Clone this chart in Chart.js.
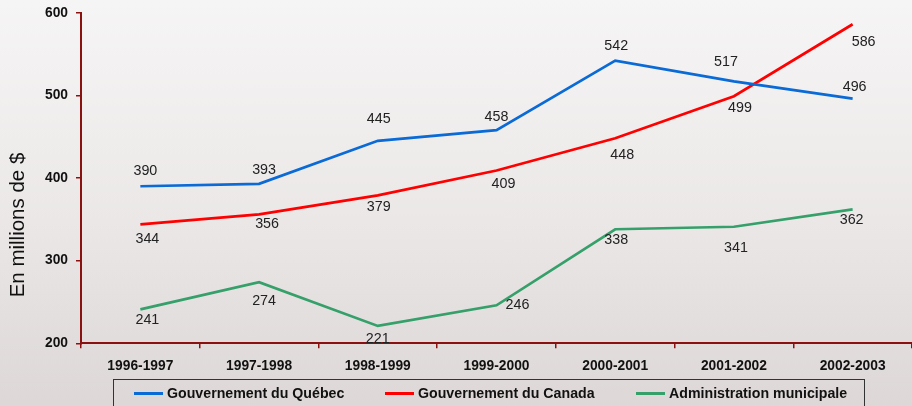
<!DOCTYPE html>
<html>
<head>
<meta charset="utf-8">
<script src="https://cdn.jsdelivr.net/npm/chart.js@4.4.1/dist/chart.umd.min.js"></script>
<style>
  html, body { margin: 0; padding: 0; width: 912px; height: 406px; overflow: hidden; }
  body { background: linear-gradient(to bottom, #f6f5f5 0%, #ebe7e7 55%, #ddd7d7 100%); position: relative; font-family: Arial, "Liberation Sans", sans-serif; }
  #wrap { position: absolute; left: 0; top: 0; width: 912px; height: 406px; }
  #c { display: block; }
  #legend { position: absolute; left: 113px; top: 379px; width: 752px; height: 32px; border: 1px solid #333; box-sizing: border-box; }
  .item { position: absolute; top: 5px; display: flex; align-items: center; font-weight: bold; font-size: 14.2px; color: #111; white-space: nowrap; }
  .swatch { width: 29px; height: 3px; margin-right: 4px; }
</style>
</head>
<body>
<div id="wrap"><canvas id="c" width="912" height="406" style="width:912px;height:406px"></canvas></div>
<div id="legend"></div>
<script>
const categories = ["1996-1997", "1997-1998", "1998-1999", "1999-2000", "2000-2001", "2001-2002", "2002-2003"];
const seriesNames = ["Gouvernement du Québec", "Gouvernement du Canada", "Administration municipale"];
const quebec    = [390, 393, 445, 458, 542, 517, 496];
const canada    = [344, 356, 379, 409, 448, 499, 586];
const municipal = [241, 274, 221, 246, 338, 341, 362];
const yTicks = [200, 300, 400, 500, 600];
const yTitle = "En millions de $";

const colors = ["#0a6ad6", "#ff0000", "#35a06a"];
// label offsets (dx, dy) relative to each point, per series
const labelOffsets = [
  [[5,-15],[5,-14],[1,-22],[0,-13],[1,-15],[-8,-19],[2,-12]],
  [[7,15],[8,10],[1,12],[7,13],[7,17],[6,12],[11,18]],
  [[7,11],[5,19],[0,13],[21,0],[1,11],[2,21],[-1,11]]
];
const legendX = [20, 271, 522];

const seriesData = [quebec, canada, municipal];
const FONT = 'Arial, "Liberation Sans", sans-serif';

const labelPlugin = {
  id: 'labels',
  afterDatasetsDraw(chart) {
    const ctx = chart.ctx;
    ctx.save();
    ctx.font = '14.3px ' + FONT;
    ctx.fillStyle = '#222';
    ctx.textAlign = 'center';
    ctx.textBaseline = 'middle';
    chart.data.datasets.forEach((ds, i) => {
      const meta = chart.getDatasetMeta(i);
      meta.data.forEach((pt, j) => {
        const off = labelOffsets[i][j];
        ctx.fillText(String(ds.data[j]), pt.x + off[0], pt.y + off[1]);
      });
    });
    // y axis title
    ctx.translate(18, 225);
    ctx.rotate(-Math.PI / 2);
    ctx.font = '20.5px ' + FONT;
    ctx.fillStyle = '#111';
    ctx.fillText(yTitle, 0, 0);
    ctx.restore();
  }
};

new Chart(document.getElementById('c'), {
  type: 'line',
  data: {
    labels: categories,
    datasets: seriesData.map((d, i) => ({
      label: seriesNames[i],
      data: d,
      borderColor: colors[i],
      backgroundColor: colors[i],
      borderWidth: 2.7,
      pointRadius: 0,
      tension: 0,
      fill: false
    }))
  },
  options: {
    responsive: false,
    animation: false,
    devicePixelRatio: 1,
    layout: { padding: { top: 12.7, right: 0, left: 0, bottom: 0 } },
    plugins: { legend: { display: false }, tooltip: { enabled: false } },
    scales: {
      x: {
        offset: true,
        grid: { offset: true, drawOnChartArea: false, drawTicks: true, tickLength: 5, color: '#8b1010', lineWidth: 1.5 },
        border: { display: true, color: '#8b1010', width: 2 },
        ticks: { autoSkip: false, color: '#111', font: { family: FONT, size: 13.8, weight: 'bold' }, padding: 10, maxRotation: 0 },
        afterFit(s) { s.height = 406 - 343.3; s.paddingLeft = 0; s.paddingRight = 0; }
      },
      y: {
        min: 200, max: 600,
        afterBuildTicks(s) { s.ticks = yTicks.map(v => ({ value: v })); },
        grid: { drawOnChartArea: false, drawTicks: true, tickLength: 5, color: '#8b1010', lineWidth: 1.5 },
        border: { display: true, color: '#8b1010', width: 2 },
        ticks: { color: '#111', font: { family: FONT, size: 13.8, weight: 'bold' }, padding: 8 },
        afterFit(s) { s.width = 81; s.paddingTop = 0; s.paddingBottom = 0; }
      }
    }
  },
  plugins: [labelPlugin]
});

// HTML legend
const leg = document.getElementById('legend');
seriesNames.forEach((n, i) => {
  const it = document.createElement('div');
  it.className = 'item';
  it.style.left = legendX[i] + 'px';
  const sw = document.createElement('span');
  sw.className = 'swatch';
  sw.style.background = colors[i];
  const tx = document.createElement('span');
  tx.textContent = n;
  it.appendChild(sw); it.appendChild(tx);
  leg.appendChild(it);
});
</script>
</body>
</html>
